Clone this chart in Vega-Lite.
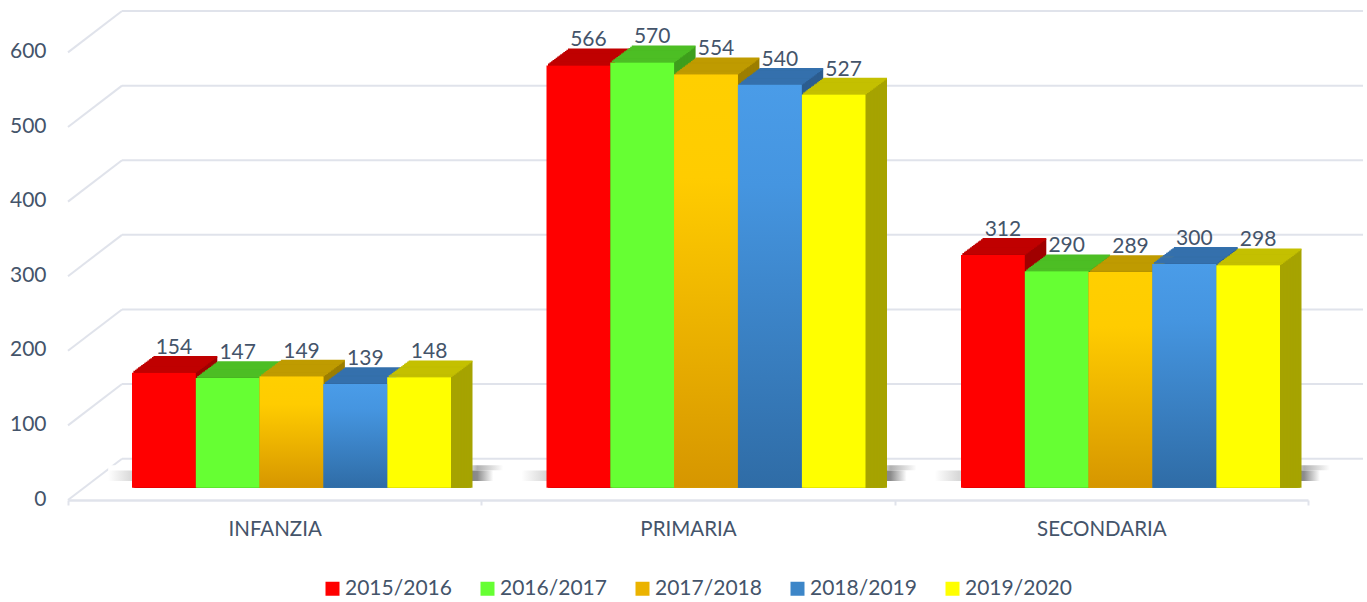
{
"$schema":"https://vega.github.io/schema/vega-lite/v6.json",
"autosize":"none","width":1240,"height":490,
"padding":{"left":68,"top":10,"right":59,"bottom":102},
"background":"white",
"config":{"font":"Lato","view":{"stroke":null},
 "axisY":{"grid":false,"domain":false,"ticks":false,"labelOffset":11.5,"labelPadding":22,"labelColor":"#44546a","labelFontSize":21,"labelFont":"Lato","title":null}},
"datasets":{
"valori":[
{"grado":"INFANZIA","anno":"2015/2016","valore":154},{"grado":"INFANZIA","anno":"2016/2017","valore":147},{"grado":"INFANZIA","anno":"2017/2018","valore":149},{"grado":"INFANZIA","anno":"2018/2019","valore":139},{"grado":"INFANZIA","anno":"2019/2020","valore":148},
{"grado":"PRIMARIA","anno":"2015/2016","valore":566},{"grado":"PRIMARIA","anno":"2016/2017","valore":570},{"grado":"PRIMARIA","anno":"2017/2018","valore":554},{"grado":"PRIMARIA","anno":"2018/2019","valore":540},{"grado":"PRIMARIA","anno":"2019/2020","valore":527},
{"grado":"SECONDARIA","anno":"2015/2016","valore":312},{"grado":"SECONDARIA","anno":"2016/2017","valore":290},{"grado":"SECONDARIA","anno":"2017/2018","valore":289},{"grado":"SECONDARIA","anno":"2018/2019","valore":300},{"grado":"SECONDARIA","anno":"2019/2020","valore":298}],
"griglia":[
{"livello":0,"davanti":-16.5,"dietro":38.9},{"livello":100,"davanti":83.5,"dietro":138.9},{"livello":200,"davanti":183.5,"dietro":238.9},{"livello":300,"davanti":283.5,"dietro":338.9},{"livello":400,"davanti":383.5,"dietro":438.9},{"livello":500,"davanti":483.5,"dietro":538.9},{"livello":600,"davanti":583.5,"dietro":638.9}],
"ombre":[{"grado":"INFANZIA","da":9,"a":23,"alto":30},{"grado":"PRIMARIA","da":9,"a":23,"alto":30},{"grado":"SECONDARIA","da":9,"a":23,"alto":30}]
},
"data":{"name":"valori"},
"layer":[
{"data":{"name":"griglia"},
 "encoding":{"x":{"datum":54,"type":"quantitative","scale":{"domain":[0,1240]},"axis":null},"y":{"field":"dietro","type":"quantitative","title":null,"scale":{"domain":[-16.49,640.3],"nice":false,"zero":false},"axis":{"values":[0,100,200,300,400,500,600]}}},
 "layer":[
 {"mark":{"type":"rule","color":"#e0e3eb","strokeWidth":2,"clip":false},"encoding":{"x2":{"datum":1295}}},
 {"mark":{"type":"rule","color":"#e0e3eb","strokeWidth":2,"clip":false},"encoding":{"x":{"datum":0,"type":"quantitative","scale":{"domain":[0,1240]},"axis":null},"x2":{"datum":54},"y":{"field":"davanti","type":"quantitative","title":null,"scale":{"domain":[-16.49,640.3],"nice":false,"zero":false},"axis":{"values":[0,100,200,300,400,500,600]}},"y2":{"field":"dietro"}}}
 ]},
{"data":{"name":"ombre"},
 "encoding":{
  "x":{"field":"grado","type":"nominal","title":null,"scale":{"paddingInner":0,"paddingOuter":0},
   "axis":{"tickBand":"extent","labelAngle":0,"domainColor":"#e0e3eb","domainWidth":2.4,"tickColor":"#e0e3eb","tickWidth":2,"tickSize":5,"labelColor":"#44546a","labelFontSize":20.5,"labelPadding":14,"labelFont":"Lato"}}},
 "layer":[
 {"mark":{"type":"bar","size":397,"xOffset":32,"color":{"gradient":"linear","x1":0,"y1":0,"x2":1,"y2":0,"stops":[{"offset":0,"color":"#ffffff"},{"offset":0.9,"color":"#ffffff"},{"offset":0.93,"color":"#b0b0b0"},{"offset":0.995,"color":"#ffffff"},{"offset":1,"color":"#ffffff"}]}},
  "encoding":{"y":{"field":"a","type":"quantitative","title":null,"scale":{"domain":[-16.49,640.3],"nice":false,"zero":false},"axis":{"values":[0,100,200,300,400,500,600]}},"y2":{"field":"alto"}}},
 {"mark":{"type":"bar","size":397,"xOffset":32,"color":{"gradient":"linear","x1":0,"y1":0,"x2":1,"y2":0,"stops":[{"offset":0,"color":"#ffffff"},{"offset":0.06,"color":"#d8d8d8"},{"offset":0.9,"color":"#808080"},{"offset":0.93,"color":"#8c8c8c"},{"offset":0.97,"color":"#ffffff"},{"offset":1,"color":"#ffffff"}]}},
  "encoding":{"y":{"field":"da","type":"quantitative","title":null,"scale":{"domain":[-16.49,640.3],"nice":false,"zero":false},"axis":{"values":[0,100,200,300,400,500,600]}},"y2":{"field":"a"}}}
 ]},
{"encoding":{
  "x":{"field":"grado","type":"nominal","axis":null,"scale":{"range":[0,1243.5],"paddingInner":0,"paddingOuter":0}},
  "y":{"field":"valore","type":"quantitative","stack":null,"title":null,"scale":{"domain":[-16.49,640.3],"nice":false,"zero":false},"axis":{"values":[0,100,200,300,400,500,600]}},
  "color":{"field":"anno","type":"nominal","legend":null,"scale":{"range":["#a00000","#3e9e1c","#9c7e00","#2c5d8f","#a6a300"]}}},
 "resolve":{"scale":{"xOffset":"independent"}},
 "layer":[
 {"mark":{"type":"bar","yOffset":-16},"encoding":{"xOffset":{"field":"anno","type":"nominal","scale":{"range":[85.5,404.5]}}}},
 {"mark":{"type":"bar","yOffset":-14.9},"encoding":{"xOffset":{"field":"anno","type":"nominal","scale":{"range":[84,403]}}}},
 {"mark":{"type":"bar","yOffset":-13.7},"encoding":{"xOffset":{"field":"anno","type":"nominal","scale":{"range":[82.4,401.4]}}}},
 {"mark":{"type":"bar","yOffset":-12.6},"encoding":{"xOffset":{"field":"anno","type":"nominal","scale":{"range":[80.9,399.9]}}}},
 {"mark":{"type":"bar","yOffset":-11.4},"encoding":{"xOffset":{"field":"anno","type":"nominal","scale":{"range":[79.4,398.4]}}}},
 {"mark":{"type":"bar","yOffset":-10.3},"encoding":{"xOffset":{"field":"anno","type":"nominal","scale":{"range":[77.8,396.8]}}}},
 {"mark":{"type":"bar","yOffset":-9.1},"encoding":{"xOffset":{"field":"anno","type":"nominal","scale":{"range":[76.3,395.3]}}}},
 {"mark":{"type":"bar","yOffset":-8},"encoding":{"xOffset":{"field":"anno","type":"nominal","scale":{"range":[74.8,393.8]}}}},
 {"mark":{"type":"bar","yOffset":-6.9},"encoding":{"xOffset":{"field":"anno","type":"nominal","scale":{"range":[73.2,392.2]}}}},
 {"mark":{"type":"bar","yOffset":-5.7},"encoding":{"xOffset":{"field":"anno","type":"nominal","scale":{"range":[71.7,390.7]}}}},
 {"mark":{"type":"bar","yOffset":-4.6},"encoding":{"xOffset":{"field":"anno","type":"nominal","scale":{"range":[70.1,389.1]}}}},
 {"mark":{"type":"bar","yOffset":-3.4},"encoding":{"xOffset":{"field":"anno","type":"nominal","scale":{"range":[68.6,387.6]}}}},
 {"mark":{"type":"bar","yOffset":-2.3},"encoding":{"xOffset":{"field":"anno","type":"nominal","scale":{"range":[67.1,386.1]}}}},
 {"mark":{"type":"bar","yOffset":-1.1},"encoding":{"xOffset":{"field":"anno","type":"nominal","scale":{"range":[65.5,384.5]}}}}
 ]},
{"encoding":{
  "x":{"field":"grado","type":"nominal","axis":null,"scale":{"range":[0,1243.5],"paddingInner":0,"paddingOuter":0}},
  "y":{"field":"valore","type":"quantitative","stack":null,"title":null,"scale":{"domain":[-16.49,640.3],"nice":false,"zero":false},"axis":{"values":[0,100,200,300,400,500,600]}},
  "color":{"field":"anno","type":"nominal","legend":null,"scale":{"range":["#c00000","#4dbe24","#bf9b00","#3470ad","#c4c000"]}}},
 "resolve":{"scale":{"xOffset":"independent"}},
 "layer":[
 {"mark":{"type":"tick","size":63.8,"thickness":1.7,"opacity":1,"yOffset":-16},"encoding":{"xOffset":{"field":"anno","type":"nominal","scale":{"range":[85.5,404.5]}}}},
 {"mark":{"type":"tick","size":63.8,"thickness":1.7,"opacity":1,"yOffset":-14.9},"encoding":{"xOffset":{"field":"anno","type":"nominal","scale":{"range":[84,403]}}}},
 {"mark":{"type":"tick","size":63.8,"thickness":1.7,"opacity":1,"yOffset":-13.7},"encoding":{"xOffset":{"field":"anno","type":"nominal","scale":{"range":[82.4,401.4]}}}},
 {"mark":{"type":"tick","size":63.8,"thickness":1.7,"opacity":1,"yOffset":-12.6},"encoding":{"xOffset":{"field":"anno","type":"nominal","scale":{"range":[80.9,399.9]}}}},
 {"mark":{"type":"tick","size":63.8,"thickness":1.7,"opacity":1,"yOffset":-11.4},"encoding":{"xOffset":{"field":"anno","type":"nominal","scale":{"range":[79.4,398.4]}}}},
 {"mark":{"type":"tick","size":63.8,"thickness":1.7,"opacity":1,"yOffset":-10.3},"encoding":{"xOffset":{"field":"anno","type":"nominal","scale":{"range":[77.8,396.8]}}}},
 {"mark":{"type":"tick","size":63.8,"thickness":1.7,"opacity":1,"yOffset":-9.1},"encoding":{"xOffset":{"field":"anno","type":"nominal","scale":{"range":[76.3,395.3]}}}},
 {"mark":{"type":"tick","size":63.8,"thickness":1.7,"opacity":1,"yOffset":-8},"encoding":{"xOffset":{"field":"anno","type":"nominal","scale":{"range":[74.8,393.8]}}}},
 {"mark":{"type":"tick","size":63.8,"thickness":1.7,"opacity":1,"yOffset":-6.9},"encoding":{"xOffset":{"field":"anno","type":"nominal","scale":{"range":[73.2,392.2]}}}},
 {"mark":{"type":"tick","size":63.8,"thickness":1.7,"opacity":1,"yOffset":-5.7},"encoding":{"xOffset":{"field":"anno","type":"nominal","scale":{"range":[71.7,390.7]}}}},
 {"mark":{"type":"tick","size":63.8,"thickness":1.7,"opacity":1,"yOffset":-4.6},"encoding":{"xOffset":{"field":"anno","type":"nominal","scale":{"range":[70.1,389.1]}}}},
 {"mark":{"type":"tick","size":63.8,"thickness":1.7,"opacity":1,"yOffset":-3.4},"encoding":{"xOffset":{"field":"anno","type":"nominal","scale":{"range":[68.6,387.6]}}}},
 {"mark":{"type":"tick","size":63.8,"thickness":1.7,"opacity":1,"yOffset":-2.3},"encoding":{"xOffset":{"field":"anno","type":"nominal","scale":{"range":[67.1,386.1]}}}},
 {"mark":{"type":"tick","size":63.8,"thickness":1.7,"opacity":1,"yOffset":-1.1},"encoding":{"xOffset":{"field":"anno","type":"nominal","scale":{"range":[65.5,384.5]}}}}
 ]},
{"encoding":{
  "x":{"field":"grado","type":"nominal","axis":null,"scale":{"range":[0,1243.5],"paddingInner":0,"paddingOuter":0}},
  "xOffset":{"field":"anno","type":"nominal","scale":{"range":[64,383]}},
  "y":{"field":"valore","type":"quantitative","stack":null,"title":null,"scale":{"domain":[-16.49,640.3],"nice":false,"zero":false},"axis":{"values":[0,100,200,300,400,500,600]}}},
 "layer":[
 {"mark":{"type":"bar"},
  "encoding":{"color":{"field":"anno","type":"nominal","title":null,
   "scale":{"domain":["2015/2016","2016/2017","2017/2018","2018/2019","2019/2020"],"range":["#ff0000","#66ff33","#ebb300","#3d86c8","#ffff00"]},
   "legend":{"orient":"none","legendX":254,"legendY":568,"direction":"horizontal","columns":5,"symbolType":"square","symbolSize":196,"symbolStrokeWidth":0,"labelColor":"#44546a","labelFontSize":21,"labelFont":"Lato","columnPadding":25,"labelOffset":2}}}},
 {"transform":[{"filter":"datum.anno==='2017/2018'"}],
  "mark":{"type":"bar","color":{"gradient":"linear","x1":0,"y1":0,"x2":0,"y2":1,"stops":[{"offset":0,"color":"#ffcf00"},{"offset":0.25,"color":"#ffcc00"},{"offset":1,"color":"#d69600"}]}}},
 {"transform":[{"filter":"datum.anno==='2018/2019'"}],
  "mark":{"type":"bar","color":{"gradient":"linear","x1":0,"y1":0,"x2":0,"y2":1,"stops":[{"offset":0,"color":"#4a9ce8"},{"offset":0.25,"color":"#4595e0"},{"offset":1,"color":"#2f6ca6"}]}}}
 ]},
{"mark":{"type":"text","fontSize":21,"color":"#44546a","dx":10,"dy":-25,"baseline":"middle","align":"center"},
 "encoding":{
  "x":{"field":"grado","type":"nominal","axis":null,"scale":{"range":[0,1243.5],"paddingInner":0,"paddingOuter":0}},
  "xOffset":{"field":"anno","type":"nominal","scale":{"range":[64,383]}},
  "y":{"field":"valore","type":"quantitative","stack":null,"title":null,"scale":{"domain":[-16.49,640.3],"nice":false,"zero":false},"axis":{"values":[0,100,200,300,400,500,600]}},
  "text":{"field":"valore","type":"quantitative"}}}
],
"resolve":{"scale":{"x":"independent","color":"independent","xOffset":"independent"},"axis":{"x":"independent"}}
}
